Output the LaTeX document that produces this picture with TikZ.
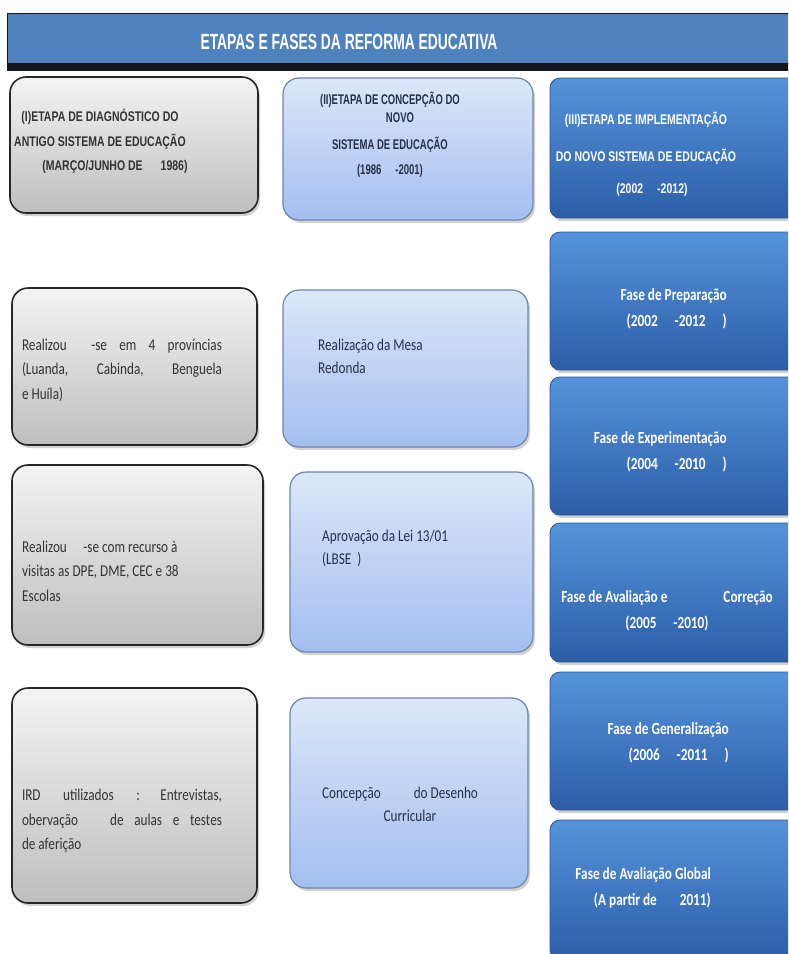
\documentclass[tikz,border=0pt]{standalone}
\usepackage{fontspec}
\setmainfont{Carlito}
\newfontfamily\hdrfont[FakeStretch=0.63]{Liberation Sans}
\newfontfamily\capfont[FakeStretch=0.75]{Liberation Sans}
\newfontfamily\capfontn[FakeStretch=0.68]{Liberation Sans}
\newfontfamily\bodyfont[FakeStretch=0.8]{Carlito}
\newfontfamily\fasefont[FakeStretch=0.78]{Carlito}
\usetikzlibrary{shadows}
\definecolor{hdrblue}{HTML}{4F81BD}
\definecolor{hdrdark}{HTML}{14171C}
\definecolor{grayline}{HTML}{262626}
\definecolor{graytop}{HTML}{F4F4F4}
\definecolor{graybot}{HTML}{BEBEBE}
\definecolor{lbtop}{HTML}{DCE7F9}
\definecolor{lbbot}{HTML}{A3BEF0}
\definecolor{lbline}{HTML}{6E86AE}
\definecolor{dbtop}{HTML}{5593DB}
\definecolor{dbbot}{HTML}{2C5EA7}
\definecolor{dbline}{HTML}{2A5592}
\definecolor{txtgray}{HTML}{333333}
\definecolor{txtnavy}{HTML}{26304A}
\tikzset{
  boxshadow/.style={drop shadow={opacity=0.35,shadow xshift=2pt,shadow yshift=-3pt}},
  graybox/.style={draw=grayline, line width=1.6pt, rounded corners=16pt,
    top color=graytop, bottom color=graybot, boxshadow, inner sep=0pt},
  lbbox/.style={draw=lbline, line width=1.2pt, rounded corners=16pt,
    top color=lbtop, bottom color=lbbot, boxshadow, inner sep=0pt},
  dbbox/.style={draw=dbline, line width=0.8pt, rounded corners=10pt,
    top color=dbtop, bottom color=dbbot, boxshadow, inner sep=0pt},
  captext/.style={font=\capfont\bfseries\fontsize{14}{24.5}\selectfont, inner sep=0pt},
  bodytext/.style={font=\bodyfont\fontsize{16.5}{24.5}\selectfont, text=txtgray, inner sep=0pt},
  navytext/.style={font=\bodyfont\fontsize{16.5}{23}\selectfont, text=txtnavy, inner sep=0pt},
  fasetext/.style={font=\fasefont\bfseries\fontsize{17}{26}\selectfont, text=white, inner sep=0pt},
}
\begin{document}
\begin{tikzpicture}[x=1pt,y=-1pt]
\clip (0,0) rectangle (788,954);
\fill[white] (0,0) rectangle (788,954);
% header
\node[fill=hdrblue, draw=hdrdark, line width=1pt, minimum width=800pt, minimum height=50pt,
  anchor=north west, inner sep=0pt] (hdr) at (7,13) {};
\fill[hdrdark] (hdr.south west) rectangle ++(800,7);
\node[font=\hdrfont\bfseries\fontsize{22}{26}\selectfont, text=white, inner sep=0pt] (title) at (349,42)
  {ETAPAS E FASES DA REFORMA EDUCATIVA};

% column 1
\node[graybox, minimum width=248pt, minimum height=136pt] (g1) at (134,145) {};
\node[graybox, minimum width=245pt, minimum height=157pt] (g2) at (134.5,366.5) {};
\node[graybox, minimum width=251pt, minimum height=180pt] (g3) at (137.5,555) {};
\node[graybox, minimum width=245pt, minimum height=215pt] (g4) at (134.5,795.5) {};

% column 2
\node[lbbox, minimum width=250pt, minimum height=142pt] (c1) at (408,149) {};
\node[lbbox, minimum width=245pt, minimum height=157pt] (c2) at (405.5,368.5) {};
\node[lbbox, minimum width=243pt, minimum height=180pt] (c3) at (411.5,562) {};
\node[lbbox, minimum width=238pt, minimum height=190pt] (c4) at (409,793) {};

% column 3
\node[dbbox, minimum width=250pt, minimum height=140pt] (d1) at (675,148) {};
\node[dbbox, minimum width=250pt, minimum height=138pt] (d2) at (675,301) {};
\node[dbbox, minimum width=250pt, minimum height=138pt] (d3) at (675,446) {};
\node[dbbox, minimum width=250pt, minimum height=139pt] (d4) at (675,592.5) {};
\node[dbbox, minimum width=250pt, minimum height=138pt] (d5) at (675,741) {};
\node[dbbox, minimum width=250pt, minimum height=140pt] (d6) at (675,890) {};

% texts column 1
\node[captext, text=txtgray, align=center] (tg1) at (100,141.5)
  {(I)ETAPA DE DIAGNÓSTICO DO\\ANTIGO SISTEMA DE EDUCAÇÃO\\\hspace*{30pt}(MARÇO/JUNHO DE\hspace{18pt}1986)};
\node[bodytext, text width=200pt, align=justify] (tg2) at (122,370)
  {Realizou\ \ -se em 4 províncias\linebreak (Luanda, Cabinda, Benguela\linebreak e Huíla)};
\node[bodytext, align=left, anchor=west] (tg3) at (22,571)
  {Realizou\quad -se com recurso à\\visitas as DPE, DME, CEC e 38\\Escolas};
\node[bodytext, text width=200pt, align=justify] (tg4) at (122,821)
  {IRD\ \ utilizados\ \ : Entrevistas,\linebreak obervação\ \ \ de aulas e testes\linebreak de aferição};

% texts column 2
\node[captext, font=\capfontn\bfseries\fontsize{14}{24}\selectfont, text=txtnavy, align=center] (tc1) at (390,135)
  {(II)ETAPA DE CONCEPÇÃO DO\\[-6pt]\hspace*{20pt}NOVO\\[3pt]SISTEMA DE EDUCAÇÃO\hspace*{40pt}\\[1pt](1986\quad -2001)};
\node[navytext, align=left, anchor=west] (tc2) at (318,356)
  {Realização da Mesa\\Redonda};
\node[navytext, align=left, anchor=west] (tc3) at (322,548)
  {Aprovação da Lei 13/01\\(LBSE\ \ )};
\node[navytext, align=center] (tc4) at (400,804)
  {Concepção\qquad do Desenho\\\hspace*{20pt}Curricular};

% texts column 3
\node[captext, text=white, align=center] (td1) at (646,154)
  {(III)ETAPA DE IMPLEMENTAÇÃO\\[13pt]DO NOVO SISTEMA DE EDUCAÇÃO\\[7pt]\hspace*{12pt}(2002\quad -2012)};
\node[fasetext, align=right, anchor=east] (td2) at (727,309)
  {Fase de Preparação\\(2002\quad -2012\quad )};
\node[fasetext, align=right, anchor=east] (td3) at (727,452)
  {Fase de Experimentação\\(2004\quad -2010\quad )};
\node[fasetext, align=center] (td4) at (667,611)
  {Fase de Avaliação e\hspace{56pt}Correção\\(2005\quad -2010)};
\node[fasetext, align=right, anchor=east] (td5) at (729,743)
  {Fase de Generalização\\(2006\quad -2011\quad )};
\node[fasetext, align=right, anchor=east] (td6) at (711,888)
  {Fase de Avaliação Global\\(A partir de\quad\ \ 2011)};
\end{tikzpicture}
\end{document}
